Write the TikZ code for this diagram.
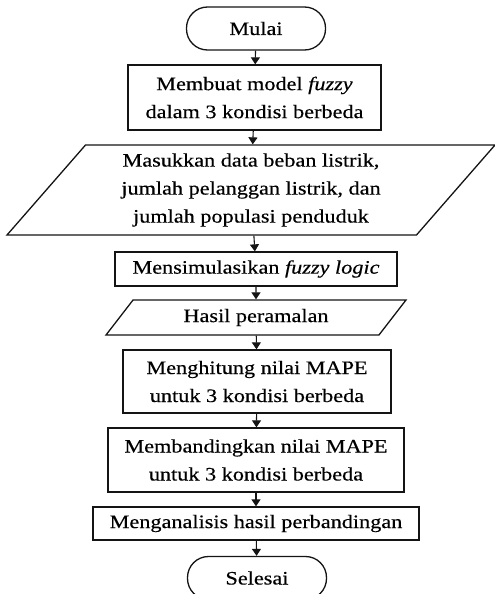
\documentclass[tikz,border=0pt]{standalone}
\usepackage{fontspec}
\setmainfont{Liberation Serif}[FakeStretch=1.17, FakeBold=0.4]
\usepackage{tikz}
\usetikzlibrary{positioning, arrows.meta, shapes.geometric}
\definecolor{LineColor}{RGB}{20,20,20}
\newcommand{\fuzzyterm}[1]{\textit{#1}}
\tikzstyle{arrow} = [line width=1.1pt, LineColor, -{Triangle[length=7pt,width=9pt]}]
\tikzset{
  flowtext/.style={font=\fontsize{19pt}{28pt}\selectfont, align=center, inner sep=0pt},
  terminal/.style={flowtext, rectangle, rounded corners=21pt, draw=LineColor, line width=1.3pt, minimum width=139pt, minimum height=43pt},
  process/.style={flowtext, rectangle, draw=LineColor, line width=1.3pt},
  io/.style={flowtext, trapezium, trapezium stretches body, draw=LineColor, line width=1.3pt}
}

\begin{document}
\begin{tikzpicture}[x=1pt, y=1pt]
    \useasboundingbox (0,0) rectangle (495,-594);

    % Start
    \node[terminal] (start) at (256,-28.5) {Mulai};

    % Model
    \node[process, minimum width=253pt, minimum height=65pt] (model) at (254.5,-97.5)
        {Membuat model \fuzzyterm{fuzzy}\\dalam 3 kondisi berbeda};

    % Input data
    \node[io, trapezium left angle=43, trapezium right angle=137,
          minimum width=488pt, minimum height=90pt] (input) at (251,-190)
        {Masukkan data beban listrik,\\jumlah pelanggan listrik, dan\\jumlah populasi penduduk};

    % Simulation
    \node[process, minimum width=282pt, minimum height=34pt] (simulate) at (256,-269)
        {Mensimulasikan \fuzzyterm{fuzzy logic}};

    % Output
    \node[io, trapezium left angle=32.5, trapezium right angle=147.5,
          minimum width=300pt, minimum height=35pt] (output) at (256,-317.5)
        {Hasil peramalan};

    % MAPE
    \node[process, minimum width=268pt, minimum height=63pt] (mape) at (257,-381.5)
        {Menghitung nilai MAPE\\untuk 3 kondisi berbeda};
    \node[process, minimum width=296pt, minimum height=64pt] (compare) at (256,-460)
        {Membandingkan nilai MAPE\\untuk 3 kondisi berbeda};

    % Analysis
    \node[process, minimum width=326pt, minimum height=33pt] (analyse) at (256,-523.5)
        {Menganalisis hasil perbandingan};

    % End
    \node[terminal] (finish) at (257,-578) {Selesai};

    % Arrows
    \draw[arrow] (start) -- (model);
    \draw[arrow] (model) -- (input);
    \draw[arrow] (input) -- (simulate);
    \draw[arrow] (simulate) -- (output);
    \draw[arrow] (output) -- (mape);
    \draw[arrow] (mape) -- (compare);
    \draw[arrow] (compare) -- (analyse);
    \draw[arrow] (analyse) -- (finish);
\end{tikzpicture}
\end{document}
